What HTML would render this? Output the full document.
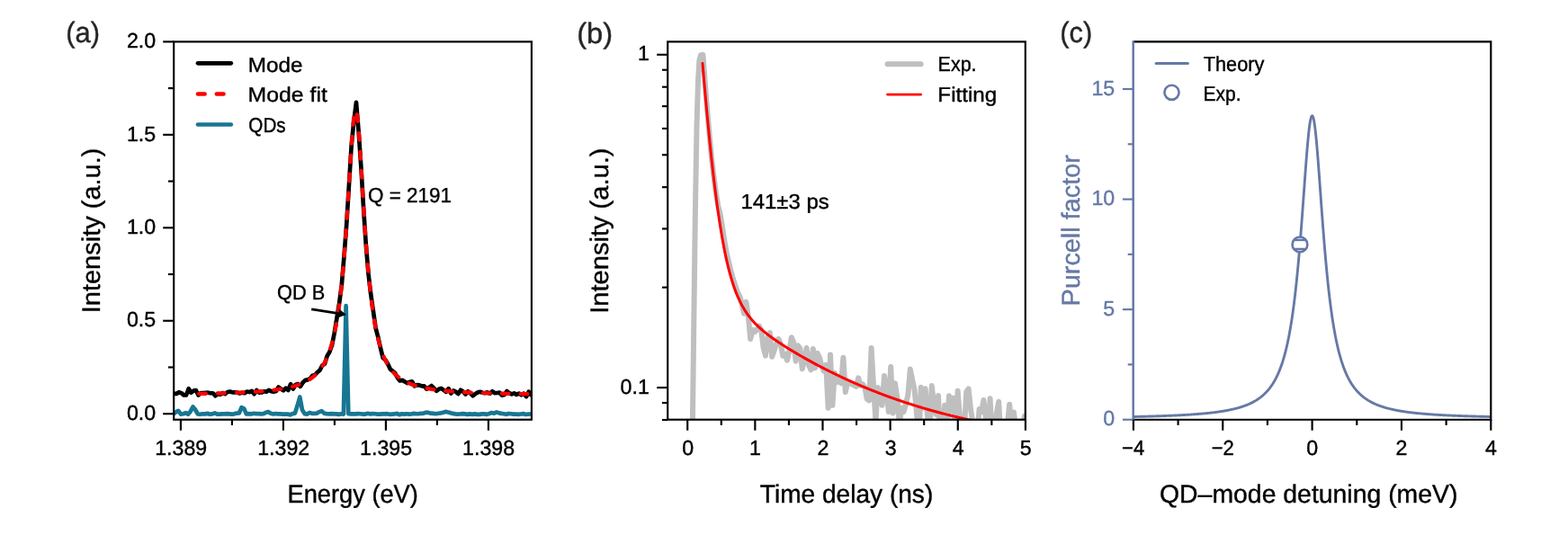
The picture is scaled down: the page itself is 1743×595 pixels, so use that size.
<!DOCTYPE html>
<html><head><meta charset="utf-8"><title>Figure</title>
<style>
html,body{margin:0;padding:0;background:#fff;}
svg{display:block;font-family:"Liberation Sans",sans-serif;}
text{stroke-width:0.4px;stroke-linejoin:round;text-rendering:geometricPrecision;}
</style></head>
<body>
<svg width="1743" height="595" viewBox="0 0 1743 595">
<rect width="1743" height="595" fill="#fff"/>
<clipPath id="ca"><rect x="193.2" y="46.4" width="397.7" height="420.3"/></clipPath>
<clipPath id="cb"><rect x="742.2" y="46.4" width="397.5999999999999" height="420.3"/></clipPath>
<clipPath id="cc"><rect x="1259.9" y="46.4" width="397.39999999999986" height="420.3"/></clipPath>
<g clip-path="url(#ca)">
<path d="M192.90,460.41 L195.60,458.25 L198.30,456.99 L201.00,460.54 L203.70,460.27 L206.40,459.20 L209.10,460.63 L211.80,457.45 L214.50,452.38 L217.20,455.75 L219.90,460.49 L222.60,460.78 L225.30,460.25 L228.00,460.42 L230.70,459.87 L233.40,460.64 L236.10,460.35 L238.80,459.44 L241.50,460.66 L244.20,460.71 L246.90,460.42 L249.60,460.42 L252.30,460.13 L255.00,460.36 L257.70,460.66 L260.40,460.34 L263.10,459.53 L265.80,459.46 L268.50,453.27 L271.20,454.36 L273.90,460.47 L276.60,460.20 L279.30,460.46 L282.00,459.77 L284.70,460.10 L287.40,460.11 L290.10,460.34 L292.80,460.20 L295.50,458.85 L298.20,458.09 L300.90,459.74 L303.60,460.50 L306.30,459.98 L309.00,460.34 L311.70,460.43 L314.40,460.67 L317.10,460.59 L319.80,460.62 L322.50,461.33 L325.20,460.07 L327.90,459.67 L330.60,451.07 L333.30,441.52 L336.00,456.03 L338.70,460.15 L341.40,460.62 L344.10,458.84 L346.80,459.80 L349.50,459.86 L352.20,459.61 L354.90,458.08 L357.60,457.08 L360.30,459.67 L363.00,460.10 L365.70,460.40 L368.40,460.09 L371.10,460.45 L373.80,460.33 L376.50,460.90 L379.20,460.26 L381.90,460.55 L384.60,340.20 L387.30,460.25 L390.00,460.45 L392.70,460.30 L395.40,460.41 L398.10,460.16 L400.80,460.24 L403.50,460.59 L406.20,460.60 L408.90,459.83 L411.60,460.44 L414.30,460.08 L417.00,460.28 L419.70,460.59 L422.40,460.65 L425.10,460.37 L427.80,460.32 L430.50,460.20 L433.20,460.83 L435.90,460.60 L438.60,460.44 L441.30,459.88 L444.00,461.19 L446.70,460.26 L449.40,460.59 L452.10,460.26 L454.80,460.57 L457.50,460.29 L460.20,459.88 L462.90,460.26 L465.60,460.11 L468.30,459.79 L471.00,459.57 L473.70,458.64 L476.40,458.92 L479.10,459.66 L481.80,459.96 L484.50,460.26 L487.20,459.75 L489.90,459.41 L492.60,458.82 L495.30,457.86 L498.00,458.47 L500.70,459.15 L503.40,459.91 L506.10,460.38 L508.80,460.54 L511.50,460.50 L514.20,460.09 L516.90,460.37 L519.60,460.90 L522.30,460.42 L525.00,460.88 L527.70,460.35 L530.40,460.81 L533.10,460.83 L535.80,460.37 L538.50,460.42 L541.20,460.91 L543.90,459.95 L546.60,459.08 L549.30,459.75 L552.00,458.36 L554.70,459.42 L557.40,459.89 L560.10,460.21 L562.80,460.82 L565.50,459.97 L568.20,460.24 L570.90,460.66 L573.60,460.50 L576.30,460.91 L579.00,460.52 L581.70,460.10 L584.40,460.97 L587.10,460.55 L589.80,460.36 L592.50,460.06" fill="none" stroke="#187693" stroke-width="4.7" stroke-linejoin="round"/>
<path d="M193.50,437.85 L196.20,437.87 L198.90,436.23 L201.60,437.14 L204.30,439.38 L207.00,439.49 L209.70,432.27 L212.40,436.65 L215.10,434.61 L217.80,434.01 L220.50,439.45 L223.20,437.16 L225.90,436.97 L228.60,436.73 L231.30,436.70 L234.00,437.27 L236.70,437.26 L239.40,440.32 L242.10,437.76 L244.80,438.77 L247.50,437.06 L250.20,438.09 L252.90,435.98 L255.60,435.51 L258.30,436.36 L261.00,436.25 L263.70,436.55 L266.40,437.44 L269.10,436.79 L271.80,437.27 L274.50,435.49 L277.20,436.03 L279.90,434.81 L282.60,438.20 L285.30,433.88 L288.00,436.76 L290.70,436.49 L293.40,435.26 L296.10,435.69 L298.80,433.83 L301.50,435.14 L304.20,435.74 L306.90,434.98 L309.60,430.58 L312.30,432.52 L315.00,434.31 L317.70,431.61 L320.40,433.96 L323.10,427.11 L325.80,432.58 L328.50,428.07 L331.20,427.08 L333.90,429.81 L336.60,425.43 L339.30,422.86 L342.00,422.39 L344.70,421.09 L347.40,417.86 L350.10,417.05 L352.80,414.05 L355.50,411.74 L358.20,406.52 L360.90,404.86 L363.60,396.03 L366.30,391.52 L369.00,383.97 L371.70,370.34 L374.40,353.94 L377.10,337.36 L379.80,316.94 L382.50,284.96 L385.20,250.05 L387.90,206.32 L390.60,162.55 L393.30,135.29 L396.00,113.85 L398.70,147.01 L401.40,185.93 L404.10,231.73 L406.80,272.15 L409.50,304.31 L412.20,327.19 L414.90,345.92 L417.60,364.79 L420.30,374.98 L423.00,387.16 L425.70,397.91 L428.40,400.27 L431.10,404.77 L433.80,410.56 L436.50,412.65 L439.20,415.05 L441.90,420.19 L444.60,423.43 L447.30,422.89 L450.00,424.43 L452.70,426.05 L455.40,424.75 L458.10,424.42 L460.80,429.33 L463.50,428.08 L466.20,428.36 L468.90,429.44 L471.60,429.41 L474.30,432.62 L477.00,431.00 L479.70,429.05 L482.40,431.73 L485.10,434.74 L487.80,432.79 L490.50,431.88 L493.20,433.82 L495.90,435.82 L498.60,432.14 L501.30,437.56 L504.00,434.51 L506.70,435.67 L509.40,438.04 L512.10,433.71 L514.80,435.49 L517.50,438.46 L520.20,435.30 L522.90,437.35 L525.60,440.21 L528.30,438.06 L531.00,436.40 L533.70,435.81 L536.40,436.78 L539.10,437.09 L541.80,436.38 L544.50,437.73 L547.20,435.22 L549.90,437.21 L552.60,437.01 L555.30,436.61 L558.00,439.65 L560.70,439.06 L563.40,434.95 L566.10,437.23 L568.80,438.43 L571.50,437.31 L574.20,438.89 L576.90,437.52 L579.60,439.32 L582.30,437.61 L585.00,441.10 L587.70,435.72 L590.40,439.19 L593.10,441.22" fill="none" stroke="#000" stroke-width="4.7" stroke-linejoin="round"/>
<path d="M221.20,437.91 L221.95,437.90 L222.70,437.88 L223.44,437.87 L224.19,437.86 L224.94,437.84 L225.69,437.83 L226.43,437.81 L227.18,437.80 L227.93,437.78 L228.68,437.77 L229.43,437.75 L230.17,437.73 L230.92,437.72 L231.67,437.70 L232.42,437.69 L233.16,437.67 L233.91,437.65 L234.66,437.63 L235.41,437.62 L236.15,437.60 L236.90,437.58 L237.65,437.56 L238.40,437.55 L239.15,437.53 L239.89,437.51 L240.64,437.49 L241.39,437.47 L242.14,437.45 L242.88,437.43 L243.63,437.41 L244.38,437.39 L245.13,437.37 L245.88,437.34 L246.62,437.32 L247.37,437.30 L248.12,437.28 L248.87,437.26 L249.61,437.23 L250.36,437.21 L251.11,437.19 L251.86,437.16 L252.61,437.14 L253.35,437.11 L254.10,437.09 L254.85,437.06 L255.60,437.04 L256.34,437.01 L257.09,436.98 L257.84,436.95 L258.59,436.93 L259.33,436.90 L260.08,436.87 L260.83,436.84 L261.58,436.81 L262.33,436.78 L263.07,436.75 L263.82,436.72 L264.57,436.69 L265.32,436.66 L266.06,436.62 L266.81,436.59 L267.56,436.55 L268.31,436.52 L269.06,436.49 L269.80,436.45 L270.55,436.41 L271.30,436.38 L272.05,436.34 L272.79,436.30 L273.54,436.26 L274.29,436.22 L275.04,436.18 L275.78,436.14 L276.53,436.10 L277.28,436.05 L278.03,436.01 L278.78,435.97 L279.52,435.92 L280.27,435.87 L281.02,435.83 L281.77,435.78 L282.51,435.73 L283.26,435.68 L284.01,435.63 L284.76,435.58 L285.51,435.52 L286.25,435.47 L287.00,435.41 L287.75,435.36 L288.50,435.30 L289.24,435.24 L289.99,435.18 L290.74,435.12 L291.49,435.06 L292.24,434.99 L292.98,434.93 L293.73,434.86 L294.48,434.79 L295.23,434.72 L295.97,434.65 L296.72,434.58 L297.47,434.50 L298.22,434.43 L298.96,434.35 L299.71,434.27 L300.46,434.19 L301.21,434.11 L301.96,434.02 L302.70,433.93 L303.45,433.84 L304.20,433.75 L304.95,433.66 L305.69,433.56 L306.44,433.46 L307.19,433.36 L307.94,433.26 L308.69,433.15 L309.43,433.04 L310.18,432.93 L310.93,432.82 L311.68,432.70 L312.42,432.58 L313.17,432.45 L313.92,432.33 L314.67,432.20 L315.42,432.06 L316.16,431.92 L316.91,431.78 L317.66,431.64 L318.41,431.49 L319.15,431.33 L319.90,431.17 L320.65,431.01 L321.40,430.84 L322.14,430.67 L322.89,430.49 L323.64,430.31 L324.39,430.12 L325.14,429.92 L325.88,429.72 L326.63,429.51 L327.38,429.30 L328.13,429.08 L328.87,428.85 L329.62,428.61 L330.37,428.37 L331.12,428.12 L331.87,427.86 L332.61,427.59 L333.36,427.31 L334.11,427.02 L334.86,426.73 L335.60,426.42 L336.35,426.10 L337.10,425.76 L337.85,425.42 L338.59,425.06 L339.34,424.69 L340.09,424.31 L340.84,423.91 L341.59,423.49 L342.33,423.06 L343.08,422.61 L343.83,422.15 L344.58,421.66 L345.32,421.15 L346.07,420.62 L346.82,420.07 L347.57,419.50 L348.32,418.90 L349.06,418.27 L349.81,417.61 L350.56,416.93 L351.31,416.21 L352.05,415.46 L352.80,414.67 L353.55,413.85 L354.30,412.98 L355.05,412.08 L355.79,411.12 L356.54,410.12 L357.29,409.06 L358.04,407.95 L358.78,406.78 L359.53,405.55 L360.28,404.24 L361.03,402.87 L361.77,401.41 L362.52,399.88 L363.27,398.25 L364.02,396.52 L364.77,394.69 L365.51,392.75 L366.26,390.69 L367.01,388.50 L367.76,386.16 L368.50,383.68 L369.25,381.03 L370.00,378.20 L370.17,377.54 L370.33,376.87 L370.50,376.19 L370.67,375.50 L370.84,374.80 L371.00,374.10 L371.17,373.38 L371.34,372.65 L371.51,371.90 L371.67,371.15 L371.84,370.39 L372.01,369.61 L372.17,368.82 L372.34,368.02 L372.51,367.21 L372.68,366.38 L372.84,365.55 L373.01,364.70 L373.18,363.83 L373.34,362.96 L373.51,362.06 L373.68,361.16 L373.85,360.24 L374.01,359.31 L374.18,358.36 L374.35,357.40 L374.52,356.42 L374.68,355.42 L374.85,354.41 L375.02,353.39 L375.18,352.35 L375.35,351.29 L375.52,350.21 L375.69,349.12 L375.85,348.01 L376.02,346.88 L376.19,345.74 L376.35,344.57 L376.52,343.39 L376.69,342.19 L376.86,340.97 L377.02,339.73 L377.19,338.47 L377.36,337.19 L377.53,335.88 L377.69,334.56 L377.86,333.22 L378.03,331.85 L378.19,330.47 L378.36,329.06 L378.53,327.63 L378.70,326.17 L378.86,324.70 L379.03,323.20 L379.20,321.67 L379.36,320.12 L379.53,318.55 L379.70,316.95 L379.87,315.33 L380.03,313.68 L380.20,312.01 L380.37,310.31 L380.54,308.58 L380.70,306.83 L380.87,305.05 L381.04,303.24 L381.20,301.41 L381.37,299.55 L381.54,297.66 L381.71,295.75 L381.87,293.80 L382.04,291.83 L382.21,289.83 L382.37,287.80 L382.54,285.74 L382.71,283.65 L382.88,281.53 L383.04,279.39 L383.21,277.22 L383.38,275.01 L383.55,272.78 L383.71,270.52 L383.88,268.24 L384.05,265.92 L384.21,263.58 L384.38,261.20 L384.55,258.80 L384.72,256.38 L384.88,253.93 L385.05,251.45 L385.22,248.95 L385.38,246.42 L385.55,243.87 L385.72,241.29 L385.89,238.69 L386.05,236.07 L386.22,233.43 L386.39,230.77 L386.56,228.10 L386.72,225.40 L386.89,222.69 L387.06,219.97 L387.22,217.24 L387.39,214.49 L387.56,211.73 L387.73,208.97 L387.89,206.20 L388.06,203.43 L388.23,200.66 L388.39,197.89 L388.56,195.12 L388.73,192.36 L388.90,189.60 L389.06,186.86 L389.23,184.13 L389.40,181.42 L389.57,178.73 L389.73,176.06 L389.90,173.42 L390.07,170.81 L390.23,168.23 L390.40,165.69 L390.57,163.18 L390.74,160.72 L390.90,158.31 L391.07,155.95 L391.24,153.64 L391.40,151.39 L391.57,149.20 L391.74,147.07 L391.91,145.01 L392.07,143.03 L392.24,141.11 L392.41,139.28 L392.58,137.53 L392.74,135.87 L392.91,134.29 L393.08,132.81 L393.24,131.42 L393.41,130.13 L393.58,128.94 L393.75,127.85 L393.91,126.86 L394.08,125.99 L394.25,125.22 L394.41,124.56 L394.58,124.01 L394.75,123.58 L394.92,123.26 L395.08,123.05 L395.25,122.96 L395.42,122.98 L395.59,123.12 L395.75,123.37 L395.92,123.74 L396.09,124.22 L396.25,124.82 L396.42,125.52 L396.59,126.34 L396.76,127.26 L396.92,128.29 L397.09,129.42 L397.26,130.65 L397.42,131.98 L397.59,133.41 L397.76,134.93 L397.93,136.54 L398.09,138.24 L398.26,140.03 L398.43,141.89 L398.60,143.83 L398.76,145.85 L398.93,147.94 L399.10,150.09 L399.26,152.31 L399.43,154.58 L399.60,156.91 L399.77,159.30 L399.93,161.73 L400.10,164.21 L400.27,166.73 L400.43,169.29 L400.60,171.88 L400.77,174.51 L400.94,177.16 L401.10,179.84 L401.27,182.54 L401.44,185.25 L401.61,187.99 L401.77,190.74 L401.94,193.49 L402.11,196.26 L402.27,199.03 L402.44,201.80 L402.61,204.57 L402.78,207.34 L402.94,210.11 L403.11,212.87 L403.28,215.62 L403.44,218.36 L403.61,221.09 L403.78,223.81 L403.95,226.52 L404.11,229.20 L404.28,231.87 L404.45,234.52 L404.62,237.15 L404.78,239.77 L404.95,242.35 L405.12,244.92 L405.28,247.46 L405.45,249.98 L405.62,252.47 L405.79,254.94 L405.95,257.38 L406.12,259.80 L406.29,262.18 L406.45,264.54 L406.62,266.88 L406.79,269.18 L406.96,271.46 L407.12,273.71 L407.29,275.92 L407.46,278.11 L407.63,280.28 L407.79,282.41 L407.96,284.51 L408.13,286.59 L408.29,288.64 L408.46,290.65 L408.63,292.64 L408.80,294.61 L408.96,296.54 L409.13,298.44 L409.30,300.32 L409.46,302.17 L409.63,303.99 L409.80,305.79 L409.97,307.56 L410.13,309.30 L410.30,311.01 L410.47,312.70 L410.64,314.36 L410.80,316.00 L410.97,317.61 L411.14,319.20 L411.30,320.76 L411.47,322.30 L411.64,323.82 L411.81,325.31 L411.97,326.78 L412.14,328.22 L412.31,329.64 L412.47,331.04 L412.64,332.42 L412.81,333.78 L412.98,335.11 L413.14,336.42 L413.31,337.72 L413.48,338.99 L413.65,340.24 L413.81,341.47 L413.98,342.69 L414.15,343.88 L414.31,345.05 L414.48,346.21 L414.65,347.35 L414.82,348.47 L414.98,349.57 L415.15,350.66 L415.32,351.73 L415.48,352.78 L415.65,353.81 L415.82,354.83 L415.99,355.83 L416.15,356.82 L416.32,357.79 L416.49,358.75 L416.66,359.69 L416.82,360.62 L416.99,361.53 L417.16,362.43 L417.32,363.32 L417.49,364.19 L417.66,365.05 L417.83,365.89 L417.99,366.73 L418.16,367.55 L418.33,368.35 L418.49,369.15 L418.66,369.93 L418.83,370.70 L419.00,371.46 L419.16,372.21 L419.33,372.95 L419.50,373.67 L419.67,374.39 L419.83,375.09 L420.00,375.79 L420.69,378.56 L421.39,381.17 L422.08,383.63 L422.78,385.95 L423.47,388.13 L424.17,390.20 L424.86,392.14 L425.56,393.98 L426.25,395.72 L426.94,397.37 L427.64,398.93 L428.33,400.41 L429.03,401.82 L429.72,403.15 L430.42,404.41 L431.11,405.62 L431.80,406.76 L432.50,407.85 L433.19,408.89 L433.89,409.88 L434.58,410.82 L435.28,411.73 L435.97,412.59 L436.67,413.41 L437.36,414.20 L438.05,414.95 L438.75,415.67 L439.44,416.36 L440.14,417.02 L440.83,417.65 L441.53,418.26 L442.22,418.84 L442.91,419.40 L443.61,419.94 L444.30,420.46 L445.00,420.96 L445.69,421.44 L446.39,421.90 L447.08,422.34 L447.78,422.77 L448.47,423.18 L449.16,423.58 L449.86,423.96 L450.55,424.33 L451.25,424.69 L451.94,425.03 L452.64,425.37 L453.33,425.69 L454.02,426.00 L454.72,426.30 L455.41,426.59 L456.11,426.87 L456.80,427.14 L457.50,427.41 L458.19,427.66 L458.89,427.91 L459.58,428.15 L460.27,428.39 L460.97,428.61 L461.66,428.83 L462.36,429.04 L463.05,429.25 L463.75,429.45 L464.44,429.65 L465.13,429.83 L465.83,430.02 L466.52,430.20 L467.22,430.37 L467.91,430.54 L468.61,430.70 L469.30,430.86 L470.00,431.02 L470.69,431.17 L471.38,431.32 L472.08,431.46 L472.77,431.60 L473.47,431.74 L474.16,431.87 L474.86,432.00 L475.55,432.13 L476.24,432.25 L476.94,432.37 L477.63,432.49 L478.33,432.60 L479.02,432.71 L479.72,432.82 L480.41,432.93 L481.11,433.03 L481.80,433.14 L482.49,433.23 L483.19,433.33 L483.88,433.43 L484.58,433.52 L485.27,433.61 L485.97,433.70 L486.66,433.78 L487.35,433.87 L488.05,433.95 L488.74,434.03 L489.44,434.11 L490.13,434.19 L490.83,434.26 L491.52,434.34 L492.22,434.41 L492.91,434.48 L493.60,434.55 L494.30,434.62 L494.99,434.69 L495.69,434.75 L496.38,434.82 L497.08,434.88 L497.77,434.94 L498.46,435.00 L499.16,435.06 L499.85,435.12 L500.55,435.18 L501.24,435.23 L501.94,435.29 L502.63,435.34 L503.33,435.39 L504.02,435.44 L504.71,435.50 L505.41,435.55 L506.10,435.59 L506.80,435.64 L507.49,435.69 L508.19,435.74 L508.88,435.78 L509.57,435.83 L510.27,435.87 L510.96,435.91 L511.66,435.96 L512.35,436.00 L513.05,436.04 L513.74,436.08 L514.44,436.12 L515.13,436.16 L515.82,436.19 L516.52,436.23 L517.21,436.27 L517.91,436.30 L518.60,436.34 L519.30,436.38 L519.99,436.41 L520.68,436.44 L521.38,436.48 L522.07,436.51 L522.77,436.54 L523.46,436.57 L524.16,436.61 L524.85,436.64 L525.55,436.67 L526.24,436.70 L526.93,436.73 L527.63,436.75 L528.32,436.78 L529.02,436.81 L529.71,436.84 L530.41,436.87 L531.10,436.89 L531.79,436.92 L532.49,436.94 L533.18,436.97 L533.88,437.00 L534.57,437.02 L535.27,437.04 L535.96,437.07 L536.66,437.09 L537.35,437.12 L538.04,437.14 L538.74,437.16 L539.43,437.18 L540.13,437.21 L540.82,437.23 L541.52,437.25 L542.21,437.27 L542.90,437.29 L543.60,437.31 L544.29,437.33 L544.99,437.35 L545.68,437.37 L546.38,437.39 L547.07,437.41 L547.77,437.43 L548.46,437.45 L549.15,437.47 L549.85,437.49 L550.54,437.50 L551.24,437.52 L551.93,437.54 L552.63,437.56 L553.32,437.57 L554.01,437.59 L554.71,437.61 L555.40,437.62 L556.10,437.64 L556.79,437.65 L557.49,437.67 L558.18,437.69 L558.88,437.70 L559.57,437.72 L560.26,437.73 L560.96,437.75 L561.65,437.76 L562.35,437.78 L563.04,437.79 L563.74,437.80 L564.43,437.82 L565.12,437.83 L565.82,437.84 L566.51,437.86 L567.21,437.87 L567.90,437.88 L568.60,437.90 L569.29,437.91 L569.99,437.92 L570.68,437.94 L571.37,437.95 L572.07,437.96 L572.76,437.97 L573.46,437.98 L574.15,438.00 L574.85,438.01 L575.54,438.02 L576.23,438.03 L576.93,438.04 L577.62,438.05 L578.32,438.06 L579.01,438.07 L579.71,438.09 L580.40,438.10 L581.10,438.11 L581.79,438.12 L582.48,438.13 L583.18,438.14 L583.87,438.15 L584.57,438.16 L585.26,438.17 L585.96,438.18 L586.65,438.19 L587.34,438.20 L588.04,438.21 L588.73,438.21 L589.43,438.22 L590.12,438.23 L590.82,438.24 L591.51,438.25 L592.21,438.26 L592.90,438.27" fill="none" stroke="#ff0000" stroke-width="4.3" stroke-dasharray="7.6 13.300" stroke-linecap="round"/>
</g>
<rect x="193.2" y="46.4" width="397.7" height="420.3" fill="none" stroke="#000" stroke-width="2.15"/>
<line x1="181.20" x2="193.20" y1="460.20" y2="460.20" stroke="#000" stroke-width="2.15"/>
<text transform="translate(140.88 466.85) scale(1.0000 1)" font-size="23.2" fill="#000" stroke="#000">0.0</text>
<line x1="181.20" x2="193.20" y1="356.75" y2="356.75" stroke="#000" stroke-width="2.15"/>
<text transform="translate(140.88 363.40) scale(1.0000 1)" font-size="23.2" fill="#000" stroke="#000">0.5</text>
<line x1="181.20" x2="193.20" y1="253.30" y2="253.30" stroke="#000" stroke-width="2.15"/>
<text transform="translate(140.88 259.95) scale(1.0000 1)" font-size="23.2" fill="#000" stroke="#000">1.0</text>
<line x1="181.20" x2="193.20" y1="149.85" y2="149.85" stroke="#000" stroke-width="2.15"/>
<text transform="translate(140.88 156.50) scale(1.0000 1)" font-size="23.2" fill="#000" stroke="#000">1.5</text>
<line x1="181.20" x2="193.20" y1="46.40" y2="46.40" stroke="#000" stroke-width="2.15"/>
<text transform="translate(140.88 53.05) scale(1.0000 1)" font-size="23.2" fill="#000" stroke="#000">2.0</text>
<line x1="187.00" x2="193.20" y1="408.47" y2="408.47" stroke="#000" stroke-width="2.15"/>
<line x1="187.00" x2="193.20" y1="305.02" y2="305.02" stroke="#000" stroke-width="2.15"/>
<line x1="187.00" x2="193.20" y1="201.57" y2="201.57" stroke="#000" stroke-width="2.15"/>
<line x1="187.00" x2="193.20" y1="98.12" y2="98.12" stroke="#000" stroke-width="2.15"/>
<line x1="200.90" x2="200.90" y1="466.70" y2="478.70" stroke="#000" stroke-width="2.15"/>
<text transform="translate(172.15 505.70) scale(1.0000 1)" font-size="23.2" fill="#000" stroke="#000">1.389</text>
<line x1="314.90" x2="314.90" y1="466.70" y2="478.70" stroke="#000" stroke-width="2.15"/>
<text transform="translate(286.21 505.70) scale(1.0000 1)" font-size="23.2" fill="#000" stroke="#000">1.392</text>
<line x1="428.90" x2="428.90" y1="466.70" y2="478.70" stroke="#000" stroke-width="2.15"/>
<text transform="translate(400.09 505.70) scale(1.0000 1)" font-size="23.2" fill="#000" stroke="#000">1.395</text>
<line x1="542.90" x2="542.90" y1="466.70" y2="478.70" stroke="#000" stroke-width="2.15"/>
<text transform="translate(514.09 505.70) scale(1.0000 1)" font-size="23.2" fill="#000" stroke="#000">1.398</text>
<line x1="257.90" x2="257.90" y1="466.70" y2="472.90" stroke="#000" stroke-width="2.15"/>
<line x1="371.90" x2="371.90" y1="466.70" y2="472.90" stroke="#000" stroke-width="2.15"/>
<line x1="485.90" x2="485.90" y1="466.70" y2="472.90" stroke="#000" stroke-width="2.15"/>
<text transform="translate(319.52 559.00) scale(0.9625 1)" font-size="28.3" fill="#000" stroke="#000">Energy (eV)</text>
<text transform="translate(110.90 348.31) rotate(-90) scale(1.0249 1)" font-size="28.3" fill="#000" stroke="#000">Intensity (a.u.)</text>
<text transform="translate(73.15 47.30) scale(0.9659 1)" font-size="32" fill="#262626" stroke="#262626">(a)</text>
<line x1="220" x2="256.8" y1="70.3" y2="70.3" stroke="#000" stroke-width="4.7" stroke-linecap="round"/>
<line x1="220" x2="257" y1="104.5" y2="104.5" stroke="#f00" stroke-width="4.7" stroke-linecap="round" stroke-dasharray="7.6 13.3"/>
<line x1="220" x2="256.8" y1="138.5" y2="138.5" stroke="#187693" stroke-width="4.7" stroke-linecap="round"/>
<text transform="translate(275.66 79.50) scale(1.0563 1)" font-size="23.0" fill="#000" stroke="#000">Mode</text>
<text transform="translate(275.62 113.40) scale(1.0776 1)" font-size="23.0" fill="#000" stroke="#000">Mode fit</text>
<text transform="translate(276.37 147.10) scale(0.8967 1)" font-size="23.0" fill="#000" stroke="#000">QDs</text>
<text transform="translate(408.99 224.50) scale(0.9718 1)" font-size="23.1" fill="#000" stroke="#000">Q = 2191</text>
<text transform="translate(308.12 332.70) scale(0.9454 1)" font-size="23.0" fill="#000" stroke="#000">QD B</text>
<line x1="346.2" y1="343.8" x2="378" y2="348.9" stroke="#000" stroke-width="2.8"/>
<path d="M384.9,350 L375.2,353.6 L377.3,348.6 L376.6,343.2 Z" fill="#000"/>
<g clip-path="url(#cb)">
<path d="M768.40,600.00 L770.00,461.00 L772.80,240.00 L774.50,140.00 L776.00,90.00 L777.40,67.00 L779.00,61.40 L780.60,63.50 L781.40,60.86 L783.80,92.57 L786.20,123.20 L788.60,149.96 L791.00,175.84 L793.40,195.59 L795.80,214.04 L798.20,228.91 L800.60,238.34 L803.00,252.80 L805.40,268.35 L807.80,281.58 L810.20,292.06 L812.60,301.71 L815.00,310.48 L817.40,317.48 L819.80,324.98 L822.20,329.34 L824.60,337.26 L827.00,348.70 L829.40,335.89 L831.80,351.69 L834.20,376.99 L836.60,366.72 L839.00,369.10 L841.40,366.72 L843.80,362.63 L846.20,366.72 L848.60,386.70 L851.00,395.71 L853.40,375.23 L855.80,370.07 L858.20,396.80 L860.60,389.86 L863.00,382.38 L865.40,376.99 L867.80,382.38 L870.20,395.71 L872.60,393.74 L875.00,400.75 L877.40,389.86 L879.80,375.23 L882.20,381.00 L884.60,401.78 L887.00,384.22 L889.40,387.70 L891.80,410.25 L894.20,399.73 L896.60,387.01 L899.00,405.96 L901.40,411.34 L903.80,387.96 L906.20,409.16 L908.60,392.76 L911.00,397.71 L913.40,407.02 L915.80,412.43 L918.20,405.96 L920.60,453.64 L923.00,394.40 L925.40,450.82 L927.80,414.65 L930.20,425.03 L932.60,423.84 L935.00,426.23 L937.40,397.80 L939.80,436.13 L942.20,425.03 L944.60,425.03 L947.00,427.43 L949.40,428.64 L951.80,429.87 L954.20,420.33 L956.60,428.64 L959.00,427.43 L961.40,431.10 L963.80,443.97 L966.20,445.32 L968.60,386.90 L971.00,428.64 L973.40,468.54 L975.80,431.10 L978.20,437.41 L980.60,450.82 L983.00,418.04 L985.40,432.34 L987.80,457.97 L990.20,408.00 L992.60,459.43 L995.00,426.23 L997.40,442.64 L999.80,471.69 L1002.20,453.64 L1004.60,457.97 L1007.00,449.42 L1009.40,438.70 L1011.80,410.60 L1014.20,422.67 L1016.60,433.59 L1019.00,459.43 L1021.40,488.46 L1023.80,430.70 L1026.20,453.64 L1028.60,432.34 L1031.00,462.41 L1033.40,481.54 L1035.80,429.00 L1038.20,450.82 L1040.60,460.92 L1043.00,440.00 L1045.40,492.03 L1047.80,478.19 L1050.20,450.82 L1052.60,479.86 L1055.00,440.30 L1057.40,456.51 L1059.80,442.50 L1062.20,497.55 L1064.60,434.85 L1067.00,463.92 L1069.40,463.92 L1071.80,479.86 L1074.20,435.80 L1076.60,432.34 L1079.00,455.07 L1081.40,470.11 L1083.80,492.03 L1086.20,483.24 L1088.60,455.07 L1091.00,457.97 L1093.40,445.00 L1095.80,465.45 L1098.20,479.86 L1100.60,443.30 L1103.00,492.03 L1105.40,488.46 L1107.80,459.43 L1110.20,446.68 L1112.60,488.46 L1115.00,483.24 L1117.40,473.29 L1119.80,471.69 L1122.20,449.70 L1124.60,478.19 L1127.00,458.50 L1129.40,478.19 L1131.80,474.91 L1134.20,492.03 L1136.60,474.91 L1139.00,462.70 L1141.40,488.46" fill="none" stroke="#bfbfbf" stroke-width="6" stroke-linejoin="round" stroke-linecap="round"/>
<path d="M780.99,70.45 L781.90,81.23 L782.81,91.80 L783.72,102.16 L784.63,112.31 L785.54,122.24 L786.45,131.94 L787.36,141.41 L788.27,150.64 L789.17,159.64 L790.08,168.39 L790.99,176.89 L791.90,185.14 L792.81,193.15 L793.72,200.90 L794.63,208.39 L795.54,215.64 L796.45,222.63 L797.35,229.36 L798.26,235.85 L799.17,242.09 L800.08,248.09 L800.99,253.85 L801.90,259.37 L802.81,264.66 L803.72,269.72 L804.63,274.57 L805.53,279.20 L806.44,283.62 L807.35,287.85 L808.26,291.88 L809.17,295.72 L810.08,299.38 L810.99,302.88 L811.90,306.21 L812.81,309.38 L813.72,312.40 L814.62,315.27 L815.53,318.01 L816.44,320.63 L817.35,323.11 L818.26,325.49 L819.17,327.75 L820.08,329.91 L820.99,331.97 L821.90,333.93 L822.80,335.81 L823.71,337.61 L824.62,339.33 L825.53,340.98 L826.44,342.56 L827.35,344.07 L828.26,345.52 L829.17,346.92 L830.08,348.26 L830.98,349.56 L831.89,350.81 L832.80,352.01 L833.71,353.17 L834.62,354.30 L835.53,355.39 L836.44,356.44 L837.35,357.47 L838.26,358.46 L839.17,359.43 L840.07,360.37 L840.98,361.28 L841.89,362.18 L842.80,363.05 L843.71,363.90 L844.62,364.73 L845.53,365.55 L846.44,366.35 L847.35,367.14 L848.25,367.91 L849.16,368.66 L850.07,369.41 L850.98,370.14 L851.89,370.86 L852.80,371.57 L853.71,372.27 L854.62,372.96 L855.53,373.64 L856.44,374.31 L857.34,374.98 L858.25,375.63 L859.16,376.28 L860.07,376.93 L860.98,377.57 L861.89,378.20 L862.80,378.82 L863.71,379.44 L864.62,380.06 L865.52,380.67 L866.43,381.27 L867.34,381.87 L868.25,382.47 L869.16,383.06 L870.07,383.65 L870.98,384.23 L871.89,384.81 L872.80,385.39 L873.70,385.96 L874.61,386.53 L875.52,387.09 L876.43,387.66 L877.34,388.22 L878.25,388.77 L879.16,389.33 L880.07,389.88 L880.98,390.43 L881.89,390.97 L882.79,391.52 L883.70,392.06 L884.61,392.60 L885.52,393.13 L886.43,393.66 L887.34,394.19 L888.25,394.72 L889.16,395.25 L890.07,395.77 L890.97,396.29 L891.88,396.81 L892.79,397.33 L893.70,397.85 L894.61,398.36 L895.52,398.87 L896.43,399.38 L897.34,399.88 L898.25,400.39 L899.15,400.89 L900.06,401.39 L900.97,401.89 L901.88,402.39 L902.79,402.88 L903.70,403.37 L904.61,403.86 L905.52,404.35 L906.43,404.84 L907.34,405.32 L908.24,405.81 L909.15,406.29 L910.06,406.77 L910.97,407.24 L911.88,407.72 L912.79,408.19 L913.70,408.66 L914.61,409.13 L915.52,409.60 L916.42,410.07 L917.33,410.53 L918.24,410.99 L919.15,411.45 L920.06,411.91 L920.97,412.37 L921.88,412.82 L922.79,413.27 L923.70,413.73 L924.60,414.17 L925.51,414.62 L926.42,415.07 L927.33,415.51 L928.24,415.95 L929.15,416.39 L930.06,416.83 L930.97,417.27 L931.88,417.70 L932.79,418.14 L933.69,418.57 L934.60,419.00 L935.51,419.43 L936.42,419.85 L937.33,420.28 L938.24,420.70 L939.15,421.12 L940.06,421.54 L940.97,421.96 L941.87,422.37 L942.78,422.78 L943.69,423.20 L944.60,423.61 L945.51,424.01 L946.42,424.42 L947.33,424.83 L948.24,425.23 L949.15,425.63 L950.05,426.03 L950.96,426.43 L951.87,426.83 L952.78,427.22 L953.69,427.61 L954.60,428.01 L955.51,428.39 L956.42,428.78 L957.33,429.17 L958.24,429.55 L959.14,429.94 L960.05,430.32 L960.96,430.70 L961.87,431.07 L962.78,431.45 L963.69,431.83 L964.60,432.20 L965.51,432.57 L966.42,432.94 L967.32,433.31 L968.23,433.67 L969.14,434.04 L970.05,434.40 L970.96,434.76 L971.87,435.12 L972.78,435.48 L973.69,435.84 L974.60,436.19 L975.50,436.54 L976.41,436.90 L977.32,437.25 L978.23,437.59 L979.14,437.94 L980.05,438.29 L980.96,438.63 L981.87,438.97 L982.78,439.31 L983.69,439.65 L984.59,439.99 L985.50,440.32 L986.41,440.66 L987.32,440.99 L988.23,441.32 L989.14,441.65 L990.05,441.98 L990.96,442.30 L991.87,442.63 L992.77,442.95 L993.68,443.27 L994.59,443.59 L995.50,443.91 L996.41,444.23 L997.32,444.54 L998.23,444.86 L999.14,445.17 L1000.05,445.48 L1000.95,445.79 L1001.86,446.10 L1002.77,446.41 L1003.68,446.71 L1004.59,447.01 L1005.50,447.32 L1006.41,447.62 L1007.32,447.92 L1008.23,448.21 L1009.14,448.51 L1010.04,448.80 L1010.95,449.10 L1011.86,449.39 L1012.77,449.68 L1013.68,449.97 L1014.59,450.26 L1015.50,450.54 L1016.41,450.83 L1017.32,451.11 L1018.22,451.39 L1019.13,451.67 L1020.04,451.95 L1020.95,452.23 L1021.86,452.51 L1022.77,452.78 L1023.68,453.05 L1024.59,453.33 L1025.50,453.60 L1026.40,453.86 L1027.31,454.13 L1028.22,454.40 L1029.13,454.66 L1030.04,454.93 L1030.95,455.19 L1031.86,455.45 L1032.77,455.71 L1033.68,455.97 L1034.59,456.23 L1035.49,456.48 L1036.40,456.74 L1037.31,456.99 L1038.22,457.24 L1039.13,457.49 L1040.04,457.74 L1040.95,457.99 L1041.86,458.24 L1042.77,458.48 L1043.67,458.73 L1044.58,458.97 L1045.49,459.21 L1046.40,459.45 L1047.31,459.69 L1048.22,459.93 L1049.13,460.16 L1050.04,460.40 L1050.95,460.63 L1051.86,460.86 L1052.76,461.10 L1053.67,461.33 L1054.58,461.56 L1055.49,461.78 L1056.40,462.01 L1057.31,462.23 L1058.22,462.46 L1059.13,462.68 L1060.04,462.90 L1060.94,463.12 L1061.85,463.34 L1062.76,463.56 L1063.67,463.78 L1064.58,463.99 L1065.49,464.21 L1066.40,464.42 L1067.31,464.63 L1068.22,464.85 L1069.12,465.06 L1070.03,465.26 L1070.94,465.47 L1071.85,465.68 L1072.76,465.88 L1073.67,466.09 L1074.58,466.29 L1075.49,466.49 L1076.40,466.69 L1077.31,466.89 L1078.21,467.09 L1079.12,467.29 L1080.03,467.49 L1080.94,467.68 L1081.85,467.88 L1082.76,468.07 L1083.67,468.26 L1084.58,468.45 L1085.49,468.64 L1086.39,468.83 L1087.30,469.02 L1088.21,469.21 L1089.12,469.39 L1090.03,469.58 L1090.94,469.76 L1091.85,469.94 L1092.76,470.13 L1093.67,470.31 L1094.57,470.49 L1095.48,470.67 L1096.39,470.84 L1097.30,471.02 L1098.21,471.20 L1099.12,471.37 L1100.03,471.54 L1100.94,471.72 L1101.85,471.89 L1102.76,472.06 L1103.66,472.23 L1104.57,472.40 L1105.48,472.57 L1106.39,472.73 L1107.30,472.90 L1108.21,473.06 L1109.12,473.23 L1110.03,473.39 L1110.94,473.55 L1111.84,473.71 L1112.75,473.87 L1113.66,474.03 L1114.57,474.19 L1115.48,474.35 L1116.39,474.51 L1117.30,474.66 L1118.21,474.82 L1119.12,474.97 L1120.02,475.12 L1120.93,475.28 L1121.84,475.43 L1122.75,475.58 L1123.66,475.73 L1124.57,475.88 L1125.48,476.02 L1126.39,476.17 L1127.30,476.32 L1128.21,476.46 L1129.11,476.61 L1130.02,476.75 L1130.93,476.89 L1131.84,477.03 L1132.75,477.17 L1133.66,477.31 L1134.57,477.45 L1135.48,477.59 L1136.39,477.73 L1137.29,477.87 L1138.20,478.00 L1139.11,478.14 L1140.02,478.27 L1140.93,478.41 L1141.84,478.54 L1142.75,478.67 L1143.66,478.80" fill="none" stroke="#ff0000" stroke-width="3.0" stroke-linecap="round"/>
</g>
<rect x="742.2" y="46.4" width="397.5999999999999" height="420.3" fill="none" stroke="#000" stroke-width="2.15"/>
<line x1="730.20" x2="742.20" y1="60.80" y2="60.80" stroke="#000" stroke-width="2.15"/>
<text transform="translate(708.98 67.45) scale(1.0000 1)" font-size="23.2" fill="#000" stroke="#000">1</text>
<line x1="730.20" x2="742.20" y1="431.10" y2="431.10" stroke="#000" stroke-width="2.15"/>
<text transform="translate(689.61 437.75) scale(1.0000 1)" font-size="23.2" fill="#000" stroke="#000">0.1</text>
<line x1="736.00" x2="742.20" y1="77.74" y2="77.74" stroke="#000" stroke-width="2.15"/>
<line x1="736.00" x2="742.20" y1="96.69" y2="96.69" stroke="#000" stroke-width="2.15"/>
<line x1="736.00" x2="742.20" y1="118.16" y2="118.16" stroke="#000" stroke-width="2.15"/>
<line x1="736.00" x2="742.20" y1="142.95" y2="142.95" stroke="#000" stroke-width="2.15"/>
<line x1="736.00" x2="742.20" y1="172.27" y2="172.27" stroke="#000" stroke-width="2.15"/>
<line x1="736.00" x2="742.20" y1="208.16" y2="208.16" stroke="#000" stroke-width="2.15"/>
<line x1="736.00" x2="742.20" y1="254.42" y2="254.42" stroke="#000" stroke-width="2.15"/>
<line x1="736.00" x2="742.20" y1="319.63" y2="319.63" stroke="#000" stroke-width="2.15"/>
<line x1="736.00" x2="742.20" y1="448.04" y2="448.04" stroke="#000" stroke-width="2.15"/>
<line x1="736.00" x2="742.20" y1="466.99" y2="466.99" stroke="#000" stroke-width="2.15"/>
<line x1="764.20" x2="764.20" y1="466.70" y2="478.70" stroke="#000" stroke-width="2.15"/>
<text transform="translate(758.16 505.70) scale(1.0000 1)" font-size="23.2" fill="#000" stroke="#000">0</text>
<line x1="839.34" x2="839.34" y1="466.70" y2="478.70" stroke="#000" stroke-width="2.15"/>
<text transform="translate(833.01 505.70) scale(1.0000 1)" font-size="23.2" fill="#000" stroke="#000">1</text>
<line x1="914.48" x2="914.48" y1="466.70" y2="478.70" stroke="#000" stroke-width="2.15"/>
<text transform="translate(908.44 505.70) scale(1.0000 1)" font-size="23.2" fill="#000" stroke="#000">2</text>
<line x1="989.62" x2="989.62" y1="466.70" y2="478.70" stroke="#000" stroke-width="2.15"/>
<text transform="translate(983.64 505.70) scale(1.0000 1)" font-size="23.2" fill="#000" stroke="#000">3</text>
<line x1="1064.76" x2="1064.76" y1="466.70" y2="478.70" stroke="#000" stroke-width="2.15"/>
<text transform="translate(1058.78 505.70) scale(1.0000 1)" font-size="23.2" fill="#000" stroke="#000">4</text>
<line x1="1139.90" x2="1139.90" y1="466.70" y2="478.70" stroke="#000" stroke-width="2.15"/>
<text transform="translate(1133.86 505.70) scale(1.0000 1)" font-size="23.2" fill="#000" stroke="#000">5</text>
<line x1="801.77" x2="801.77" y1="466.70" y2="472.90" stroke="#000" stroke-width="2.15"/>
<line x1="876.91" x2="876.91" y1="466.70" y2="472.90" stroke="#000" stroke-width="2.15"/>
<line x1="952.05" x2="952.05" y1="466.70" y2="472.90" stroke="#000" stroke-width="2.15"/>
<line x1="1027.19" x2="1027.19" y1="466.70" y2="472.90" stroke="#000" stroke-width="2.15"/>
<line x1="1102.33" x2="1102.33" y1="466.70" y2="472.90" stroke="#000" stroke-width="2.15"/>
<text transform="translate(844.84 559.00) scale(0.9922 1)" font-size="28.3" fill="#000" stroke="#000">Time delay (ns)</text>
<text transform="translate(676.30 348.72) rotate(-90) scale(1.0272 1)" font-size="28.3" fill="#000" stroke="#000">Intensity (a.u.)</text>
<text transform="translate(641.14 47.60) scale(1.0227 1)" font-size="32" fill="#262626" stroke="#262626">(b)</text>
<line x1="986.7" x2="1023.5" y1="71.25" y2="71.25" stroke="#bfbfbf" stroke-width="6.2" stroke-linecap="round"/>
<line x1="986.5" x2="1023.7" y1="105.1" y2="105.1" stroke="#f00" stroke-width="2.8" stroke-linecap="round"/>
<text transform="translate(1042.58 79.40) scale(0.9337 1)" font-size="23.0" fill="#000" stroke="#000">Exp.</text>
<text transform="translate(1042.36 113.30) scale(1.0519 1)" font-size="23.0" fill="#000" stroke="#000">Fitting</text>
<text transform="translate(823.51 232.40) scale(1.0346 1)" font-size="23.1" fill="#000" stroke="#000">141±3 ps</text>
<g clip-path="url(#cc)">
<path d="M1259.90,463.48 L1260.40,463.47 L1260.89,463.46 L1261.39,463.45 L1261.89,463.44 L1262.38,463.43 L1262.88,463.42 L1263.38,463.41 L1263.87,463.40 L1264.37,463.38 L1264.87,463.37 L1265.36,463.36 L1265.86,463.35 L1266.36,463.34 L1266.85,463.33 L1267.35,463.32 L1267.85,463.30 L1268.34,463.29 L1268.84,463.28 L1269.34,463.27 L1269.84,463.26 L1270.33,463.24 L1270.83,463.23 L1271.33,463.22 L1271.82,463.21 L1272.32,463.19 L1272.82,463.18 L1273.31,463.17 L1273.81,463.15 L1274.31,463.14 L1274.80,463.13 L1275.30,463.11 L1275.80,463.10 L1276.29,463.09 L1276.79,463.07 L1277.29,463.06 L1277.78,463.05 L1278.28,463.03 L1278.78,463.02 L1279.27,463.00 L1279.77,462.99 L1280.27,462.98 L1280.76,462.96 L1281.26,462.95 L1281.76,462.93 L1282.25,462.92 L1282.75,462.90 L1283.25,462.89 L1283.74,462.87 L1284.24,462.86 L1284.74,462.84 L1285.23,462.82 L1285.73,462.81 L1286.23,462.79 L1286.72,462.78 L1287.22,462.76 L1287.72,462.74 L1288.21,462.73 L1288.71,462.71 L1289.21,462.69 L1289.70,462.68 L1290.20,462.66 L1290.70,462.64 L1291.20,462.62 L1291.69,462.61 L1292.19,462.59 L1292.69,462.57 L1293.18,462.55 L1293.68,462.54 L1294.18,462.52 L1294.67,462.50 L1295.17,462.48 L1295.67,462.46 L1296.16,462.44 L1296.66,462.42 L1297.16,462.40 L1297.65,462.38 L1298.15,462.36 L1298.65,462.34 L1299.14,462.32 L1299.64,462.30 L1300.14,462.28 L1300.63,462.26 L1301.13,462.24 L1301.63,462.22 L1302.12,462.20 L1302.62,462.18 L1303.12,462.16 L1303.61,462.13 L1304.11,462.11 L1304.61,462.09 L1305.10,462.07 L1305.60,462.05 L1306.10,462.02 L1306.59,462.00 L1307.09,461.98 L1307.59,461.95 L1308.08,461.93 L1308.58,461.90 L1309.08,461.88 L1309.57,461.86 L1310.07,461.83 L1310.57,461.81 L1311.07,461.78 L1311.56,461.75 L1312.06,461.73 L1312.56,461.70 L1313.05,461.68 L1313.55,461.65 L1314.05,461.62 L1314.54,461.60 L1315.04,461.57 L1315.54,461.54 L1316.03,461.51 L1316.53,461.48 L1317.03,461.46 L1317.52,461.43 L1318.02,461.40 L1318.52,461.37 L1319.01,461.34 L1319.51,461.31 L1320.01,461.28 L1320.50,461.25 L1321.00,461.22 L1321.50,461.19 L1321.99,461.15 L1322.49,461.12 L1322.99,461.09 L1323.48,461.06 L1323.98,461.02 L1324.48,460.99 L1324.97,460.96 L1325.47,460.92 L1325.97,460.89 L1326.46,460.85 L1326.96,460.82 L1327.46,460.78 L1327.95,460.74 L1328.45,460.71 L1328.95,460.67 L1329.44,460.63 L1329.94,460.60 L1330.44,460.56 L1330.94,460.52 L1331.43,460.48 L1331.93,460.44 L1332.43,460.40 L1332.92,460.36 L1333.42,460.32 L1333.92,460.28 L1334.41,460.23 L1334.91,460.19 L1335.41,460.15 L1335.90,460.11 L1336.40,460.06 L1336.90,460.02 L1337.39,459.97 L1337.89,459.93 L1338.39,459.88 L1338.88,459.83 L1339.38,459.79 L1339.88,459.74 L1340.37,459.69 L1340.87,459.64 L1341.37,459.59 L1341.86,459.54 L1342.36,459.49 L1342.86,459.44 L1343.35,459.39 L1343.85,459.33 L1344.35,459.28 L1344.84,459.23 L1345.34,459.17 L1345.84,459.12 L1346.33,459.06 L1346.83,459.00 L1347.33,458.94 L1347.82,458.89 L1348.32,458.83 L1348.82,458.77 L1349.31,458.70 L1349.81,458.64 L1350.31,458.58 L1350.81,458.52 L1351.30,458.45 L1351.80,458.39 L1352.30,458.32 L1352.79,458.25 L1353.29,458.19 L1353.79,458.12 L1354.28,458.05 L1354.78,457.98 L1355.28,457.91 L1355.77,457.83 L1356.27,457.76 L1356.77,457.68 L1357.26,457.61 L1357.76,457.53 L1358.26,457.45 L1358.75,457.37 L1359.25,457.29 L1359.75,457.21 L1360.24,457.13 L1360.74,457.04 L1361.24,456.96 L1361.73,456.87 L1362.23,456.79 L1362.73,456.70 L1363.22,456.61 L1363.72,456.51 L1364.22,456.42 L1364.71,456.33 L1365.21,456.23 L1365.71,456.13 L1366.20,456.03 L1366.70,455.93 L1367.20,455.83 L1367.69,455.73 L1368.19,455.62 L1368.69,455.51 L1369.18,455.40 L1369.68,455.29 L1370.18,455.18 L1370.68,455.07 L1371.17,454.95 L1371.67,454.83 L1372.17,454.71 L1372.66,454.59 L1373.16,454.47 L1373.66,454.34 L1374.15,454.21 L1374.65,454.08 L1375.15,453.95 L1375.64,453.81 L1376.14,453.68 L1376.64,453.54 L1377.13,453.39 L1377.63,453.25 L1378.13,453.10 L1378.62,452.95 L1379.12,452.80 L1379.62,452.64 L1380.11,452.49 L1380.61,452.33 L1381.11,452.16 L1381.60,451.99 L1382.10,451.82 L1382.60,451.65 L1383.09,451.48 L1383.59,451.30 L1384.09,451.11 L1384.58,450.93 L1385.08,450.74 L1385.58,450.54 L1386.07,450.34 L1386.57,450.14 L1387.07,449.94 L1387.56,449.73 L1388.06,449.51 L1388.56,449.30 L1389.05,449.07 L1389.55,448.85 L1390.05,448.62 L1390.55,448.38 L1391.04,448.14 L1391.54,447.89 L1392.04,447.64 L1392.53,447.39 L1393.03,447.12 L1393.53,446.86 L1394.02,446.58 L1394.52,446.30 L1395.02,446.02 L1395.51,445.73 L1396.01,445.43 L1396.51,445.13 L1397.00,444.82 L1397.50,444.50 L1398.00,444.17 L1398.49,443.84 L1398.99,443.50 L1399.49,443.15 L1399.98,442.80 L1400.48,442.43 L1400.98,442.06 L1401.47,441.68 L1401.97,441.28 L1402.47,440.88 L1402.96,440.47 L1403.46,440.05 L1403.96,439.62 L1404.45,439.18 L1404.95,438.73 L1405.45,438.27 L1405.94,437.79 L1406.44,437.30 L1406.94,436.80 L1407.43,436.29 L1407.93,435.76 L1408.43,435.22 L1408.92,434.67 L1409.42,434.10 L1409.92,433.52 L1410.42,432.92 L1410.91,432.30 L1411.41,431.66 L1411.91,431.01 L1412.40,430.34 L1412.90,429.66 L1413.40,428.95 L1413.89,428.22 L1414.39,427.47 L1414.89,426.70 L1415.38,425.91 L1415.88,425.09 L1416.38,424.25 L1416.87,423.38 L1417.37,422.49 L1417.87,421.57 L1418.36,420.62 L1418.86,419.65 L1419.36,418.64 L1419.85,417.60 L1420.35,416.53 L1420.85,415.42 L1421.34,414.28 L1421.84,413.10 L1422.34,411.88 L1422.83,410.63 L1423.33,409.33 L1423.83,407.99 L1424.32,406.60 L1424.82,405.16 L1425.32,403.68 L1425.81,402.15 L1426.31,400.56 L1426.81,398.92 L1427.30,397.22 L1427.80,395.46 L1428.30,393.63 L1428.79,391.74 L1429.29,389.79 L1429.79,387.76 L1430.29,385.66 L1430.78,383.48 L1431.28,381.22 L1431.78,378.88 L1432.27,376.45 L1432.77,373.93 L1433.27,371.32 L1433.76,368.61 L1434.26,365.79 L1434.76,362.87 L1435.25,359.84 L1435.75,356.70 L1436.25,353.43 L1436.74,350.05 L1437.24,346.53 L1437.74,342.89 L1438.23,339.10 L1438.73,335.18 L1439.23,331.11 L1439.72,326.89 L1440.22,322.52 L1440.72,318.00 L1441.21,313.31 L1441.71,308.46 L1442.21,303.45 L1442.70,298.27 L1443.20,292.92 L1443.70,287.41 L1444.19,281.74 L1444.69,275.90 L1445.19,269.90 L1445.68,263.76 L1446.18,257.47 L1446.68,251.04 L1447.17,244.49 L1447.67,237.84 L1448.17,231.10 L1448.66,224.28 L1449.16,217.42 L1449.66,210.55 L1450.16,203.68 L1450.65,196.86 L1451.15,190.12 L1451.65,183.51 L1452.14,177.05 L1452.64,170.81 L1453.14,164.82 L1453.63,159.14 L1454.13,153.80 L1454.63,148.87 L1455.12,144.39 L1455.62,140.41 L1456.12,136.95 L1456.61,134.08 L1457.11,131.80 L1457.61,130.16 L1458.10,129.16 L1458.60,128.83 L1459.10,129.16 L1459.59,130.16 L1460.09,131.80 L1460.59,134.08 L1461.08,136.95 L1461.58,140.41 L1462.08,144.39 L1462.57,148.87 L1463.07,153.80 L1463.57,159.14 L1464.06,164.82 L1464.56,170.81 L1465.06,177.05 L1465.55,183.51 L1466.05,190.12 L1466.55,196.86 L1467.04,203.68 L1467.54,210.55 L1468.04,217.42 L1468.53,224.28 L1469.03,231.10 L1469.53,237.84 L1470.03,244.49 L1470.52,251.04 L1471.02,257.47 L1471.52,263.76 L1472.01,269.90 L1472.51,275.90 L1473.01,281.74 L1473.50,287.41 L1474.00,292.92 L1474.50,298.27 L1474.99,303.45 L1475.49,308.46 L1475.99,313.31 L1476.48,318.00 L1476.98,322.52 L1477.48,326.89 L1477.97,331.11 L1478.47,335.18 L1478.97,339.10 L1479.46,342.89 L1479.96,346.53 L1480.46,350.05 L1480.95,353.43 L1481.45,356.70 L1481.95,359.84 L1482.44,362.87 L1482.94,365.79 L1483.44,368.61 L1483.93,371.32 L1484.43,373.93 L1484.93,376.45 L1485.42,378.88 L1485.92,381.22 L1486.42,383.48 L1486.91,385.66 L1487.41,387.76 L1487.91,389.79 L1488.40,391.74 L1488.90,393.63 L1489.40,395.46 L1489.90,397.22 L1490.39,398.92 L1490.89,400.56 L1491.39,402.15 L1491.88,403.68 L1492.38,405.16 L1492.88,406.60 L1493.37,407.99 L1493.87,409.33 L1494.37,410.63 L1494.86,411.88 L1495.36,413.10 L1495.86,414.28 L1496.35,415.42 L1496.85,416.53 L1497.35,417.60 L1497.84,418.64 L1498.34,419.65 L1498.84,420.62 L1499.33,421.57 L1499.83,422.49 L1500.33,423.38 L1500.82,424.25 L1501.32,425.09 L1501.82,425.91 L1502.31,426.70 L1502.81,427.47 L1503.31,428.22 L1503.80,428.95 L1504.30,429.66 L1504.80,430.34 L1505.29,431.01 L1505.79,431.66 L1506.29,432.30 L1506.78,432.92 L1507.28,433.52 L1507.78,434.10 L1508.27,434.67 L1508.77,435.22 L1509.27,435.76 L1509.77,436.29 L1510.26,436.80 L1510.76,437.30 L1511.26,437.79 L1511.75,438.27 L1512.25,438.73 L1512.75,439.18 L1513.24,439.62 L1513.74,440.05 L1514.24,440.47 L1514.73,440.88 L1515.23,441.28 L1515.73,441.68 L1516.22,442.06 L1516.72,442.43 L1517.22,442.80 L1517.71,443.15 L1518.21,443.50 L1518.71,443.84 L1519.20,444.17 L1519.70,444.50 L1520.20,444.82 L1520.69,445.13 L1521.19,445.43 L1521.69,445.73 L1522.18,446.02 L1522.68,446.30 L1523.18,446.58 L1523.67,446.86 L1524.17,447.12 L1524.67,447.39 L1525.16,447.64 L1525.66,447.89 L1526.16,448.14 L1526.65,448.38 L1527.15,448.62 L1527.65,448.85 L1528.14,449.07 L1528.64,449.30 L1529.14,449.51 L1529.64,449.73 L1530.13,449.94 L1530.63,450.14 L1531.13,450.34 L1531.62,450.54 L1532.12,450.74 L1532.62,450.93 L1533.11,451.11 L1533.61,451.30 L1534.11,451.48 L1534.60,451.65 L1535.10,451.82 L1535.60,451.99 L1536.09,452.16 L1536.59,452.33 L1537.09,452.49 L1537.58,452.64 L1538.08,452.80 L1538.58,452.95 L1539.07,453.10 L1539.57,453.25 L1540.07,453.39 L1540.56,453.54 L1541.06,453.68 L1541.56,453.81 L1542.05,453.95 L1542.55,454.08 L1543.05,454.21 L1543.54,454.34 L1544.04,454.47 L1544.54,454.59 L1545.03,454.71 L1545.53,454.83 L1546.03,454.95 L1546.52,455.07 L1547.02,455.18 L1547.52,455.29 L1548.01,455.40 L1548.51,455.51 L1549.01,455.62 L1549.51,455.73 L1550.00,455.83 L1550.50,455.93 L1551.00,456.03 L1551.49,456.13 L1551.99,456.23 L1552.49,456.33 L1552.98,456.42 L1553.48,456.51 L1553.98,456.61 L1554.47,456.70 L1554.97,456.79 L1555.47,456.87 L1555.96,456.96 L1556.46,457.04 L1556.96,457.13 L1557.45,457.21 L1557.95,457.29 L1558.45,457.37 L1558.94,457.45 L1559.44,457.53 L1559.94,457.61 L1560.43,457.68 L1560.93,457.76 L1561.43,457.83 L1561.92,457.91 L1562.42,457.98 L1562.92,458.05 L1563.41,458.12 L1563.91,458.19 L1564.41,458.25 L1564.90,458.32 L1565.40,458.39 L1565.90,458.45 L1566.39,458.52 L1566.89,458.58 L1567.39,458.64 L1567.88,458.70 L1568.38,458.77 L1568.88,458.83 L1569.38,458.89 L1569.87,458.94 L1570.37,459.00 L1570.87,459.06 L1571.36,459.12 L1571.86,459.17 L1572.36,459.23 L1572.85,459.28 L1573.35,459.33 L1573.85,459.39 L1574.34,459.44 L1574.84,459.49 L1575.34,459.54 L1575.83,459.59 L1576.33,459.64 L1576.83,459.69 L1577.32,459.74 L1577.82,459.79 L1578.32,459.83 L1578.81,459.88 L1579.31,459.93 L1579.81,459.97 L1580.30,460.02 L1580.80,460.06 L1581.30,460.11 L1581.79,460.15 L1582.29,460.19 L1582.79,460.23 L1583.28,460.28 L1583.78,460.32 L1584.28,460.36 L1584.77,460.40 L1585.27,460.44 L1585.77,460.48 L1586.26,460.52 L1586.76,460.56 L1587.26,460.60 L1587.75,460.63 L1588.25,460.67 L1588.75,460.71 L1589.25,460.74 L1589.74,460.78 L1590.24,460.82 L1590.74,460.85 L1591.23,460.89 L1591.73,460.92 L1592.23,460.96 L1592.72,460.99 L1593.22,461.02 L1593.72,461.06 L1594.21,461.09 L1594.71,461.12 L1595.21,461.15 L1595.70,461.19 L1596.20,461.22 L1596.70,461.25 L1597.19,461.28 L1597.69,461.31 L1598.19,461.34 L1598.68,461.37 L1599.18,461.40 L1599.68,461.43 L1600.17,461.46 L1600.67,461.48 L1601.17,461.51 L1601.66,461.54 L1602.16,461.57 L1602.66,461.60 L1603.15,461.62 L1603.65,461.65 L1604.15,461.68 L1604.64,461.70 L1605.14,461.73 L1605.64,461.75 L1606.13,461.78 L1606.63,461.81 L1607.13,461.83 L1607.62,461.86 L1608.12,461.88 L1608.62,461.90 L1609.12,461.93 L1609.61,461.95 L1610.11,461.98 L1610.61,462.00 L1611.10,462.02 L1611.60,462.05 L1612.10,462.07 L1612.59,462.09 L1613.09,462.11 L1613.59,462.13 L1614.08,462.16 L1614.58,462.18 L1615.08,462.20 L1615.57,462.22 L1616.07,462.24 L1616.57,462.26 L1617.06,462.28 L1617.56,462.30 L1618.06,462.32 L1618.55,462.34 L1619.05,462.36 L1619.55,462.38 L1620.04,462.40 L1620.54,462.42 L1621.04,462.44 L1621.53,462.46 L1622.03,462.48 L1622.53,462.50 L1623.02,462.52 L1623.52,462.54 L1624.02,462.55 L1624.51,462.57 L1625.01,462.59 L1625.51,462.61 L1626.00,462.62 L1626.50,462.64 L1627.00,462.66 L1627.49,462.68 L1627.99,462.69 L1628.49,462.71 L1628.99,462.73 L1629.48,462.74 L1629.98,462.76 L1630.48,462.78 L1630.97,462.79 L1631.47,462.81 L1631.97,462.82 L1632.46,462.84 L1632.96,462.86 L1633.46,462.87 L1633.95,462.89 L1634.45,462.90 L1634.95,462.92 L1635.44,462.93 L1635.94,462.95 L1636.44,462.96 L1636.93,462.98 L1637.43,462.99 L1637.93,463.00 L1638.42,463.02 L1638.92,463.03 L1639.42,463.05 L1639.91,463.06 L1640.41,463.07 L1640.91,463.09 L1641.40,463.10 L1641.90,463.11 L1642.40,463.13 L1642.89,463.14 L1643.39,463.15 L1643.89,463.17 L1644.38,463.18 L1644.88,463.19 L1645.38,463.21 L1645.87,463.22 L1646.37,463.23 L1646.87,463.24 L1647.36,463.26 L1647.86,463.27 L1648.36,463.28 L1648.86,463.29 L1649.35,463.30 L1649.85,463.32 L1650.35,463.33 L1650.84,463.34 L1651.34,463.35 L1651.84,463.36 L1652.33,463.37 L1652.83,463.38 L1653.33,463.40 L1653.82,463.41 L1654.32,463.42 L1654.82,463.43 L1655.31,463.44 L1655.81,463.45 L1656.31,463.46 L1656.80,463.47 L1657.30,463.48" fill="none" stroke="#6579a6" stroke-width="2.9" stroke-linejoin="round"/>
</g>
<circle cx="1444.96" cy="271.9" r="8.4" fill="#fff" stroke="#6579a6" stroke-width="2.6"/>
<line x1="1438.70" x2="1451.20" y1="266.90" y2="266.90" stroke="#6579a6" stroke-width="2.5"/>
<line x1="1438.70" x2="1451.20" y1="277.00" y2="277.00" stroke="#6579a6" stroke-width="2.5"/>
<path d="M1259.9,46.4 H1657.3 V466.7 H1259.9" fill="none" stroke="#000" stroke-width="2.15"/>
<line x1="1259.70" x2="1259.70" y1="45.32" y2="467.77" stroke="#6579a6" stroke-width="2.5"/>
<line x1="1247.90" x2="1259.90" y1="466.70" y2="466.70" stroke="#6579a6" stroke-width="2.15"/>
<text transform="translate(1226.25 473.25) scale(1.0000 1)" font-size="23.2" fill="#6579a6" stroke="#6579a6">0</text>
<line x1="1247.90" x2="1259.90" y1="344.15" y2="344.15" stroke="#6579a6" stroke-width="2.15"/>
<text transform="translate(1226.25 350.70) scale(1.0000 1)" font-size="23.2" fill="#6579a6" stroke="#6579a6">5</text>
<line x1="1247.90" x2="1259.90" y1="221.60" y2="221.60" stroke="#6579a6" stroke-width="2.15"/>
<text transform="translate(1213.38 228.15) scale(1.0000 1)" font-size="23.2" fill="#6579a6" stroke="#6579a6">10</text>
<line x1="1247.90" x2="1259.90" y1="99.05" y2="99.05" stroke="#6579a6" stroke-width="2.15"/>
<text transform="translate(1213.38 105.60) scale(1.0000 1)" font-size="23.2" fill="#6579a6" stroke="#6579a6">15</text>
<line x1="1253.70" x2="1259.90" y1="405.42" y2="405.42" stroke="#6579a6" stroke-width="2.15"/>
<line x1="1253.70" x2="1259.90" y1="282.88" y2="282.88" stroke="#6579a6" stroke-width="2.15"/>
<line x1="1253.70" x2="1259.90" y1="160.32" y2="160.32" stroke="#6579a6" stroke-width="2.15"/>
<line x1="1259.90" x2="1259.90" y1="466.70" y2="478.70" stroke="#000" stroke-width="2.15"/>
<text transform="translate(1247.12 505.70) scale(0.9500 1)" font-size="23.2" fill="#000" stroke="#000">−4</text>
<line x1="1359.25" x2="1359.25" y1="466.70" y2="478.70" stroke="#000" stroke-width="2.15"/>
<text transform="translate(1346.69 505.70) scale(0.9500 1)" font-size="23.2" fill="#000" stroke="#000">−2</text>
<line x1="1458.60" x2="1458.60" y1="466.70" y2="478.70" stroke="#000" stroke-width="2.15"/>
<text transform="translate(1452.16 505.70) scale(1.0000 1)" font-size="23.2" fill="#000" stroke="#000">0</text>
<line x1="1557.95" x2="1557.95" y1="466.70" y2="478.70" stroke="#000" stroke-width="2.15"/>
<text transform="translate(1551.51 505.70) scale(1.0000 1)" font-size="23.2" fill="#000" stroke="#000">2</text>
<line x1="1657.30" x2="1657.30" y1="466.70" y2="478.70" stroke="#000" stroke-width="2.15"/>
<text transform="translate(1650.92 505.70) scale(1.0000 1)" font-size="23.2" fill="#000" stroke="#000">4</text>
<line x1="1309.57" x2="1309.57" y1="466.70" y2="472.90" stroke="#000" stroke-width="2.15"/>
<line x1="1408.92" x2="1408.92" y1="466.70" y2="472.90" stroke="#000" stroke-width="2.15"/>
<line x1="1508.27" x2="1508.27" y1="466.70" y2="472.90" stroke="#000" stroke-width="2.15"/>
<line x1="1607.62" x2="1607.62" y1="466.70" y2="472.90" stroke="#000" stroke-width="2.15"/>
<text transform="translate(1289.02 559.00) scale(1.0034 1)" font-size="28.3" fill="#000" stroke="#000">QD–mode detuning (meV)</text>
<text transform="translate(1200.00 340.51) rotate(-90) scale(1.0194 1)" font-size="28.3" fill="#6579a6" stroke="#6579a6">Purcell factor</text>
<text transform="translate(1178.25 47.30) scale(0.9659 1)" font-size="32" fill="#262626" stroke="#262626">(c)</text>
<line x1="1285.1" x2="1320.4" y1="70.55" y2="70.55" stroke="#6579a6" stroke-width="3.0" stroke-linecap="round"/>
<circle cx="1302.5" cy="102.8" r="8.1" fill="#fff" stroke="#6579a6" stroke-width="2.6"/>
<text transform="translate(1337.77 78.90) scale(0.9429 1)" font-size="23.0" fill="#000" stroke="#000">Theory</text>
<text transform="translate(1337.52 111.60) scale(0.9123 1)" font-size="23.0" fill="#000" stroke="#000">Exp.</text>
</svg>
</body></html>
